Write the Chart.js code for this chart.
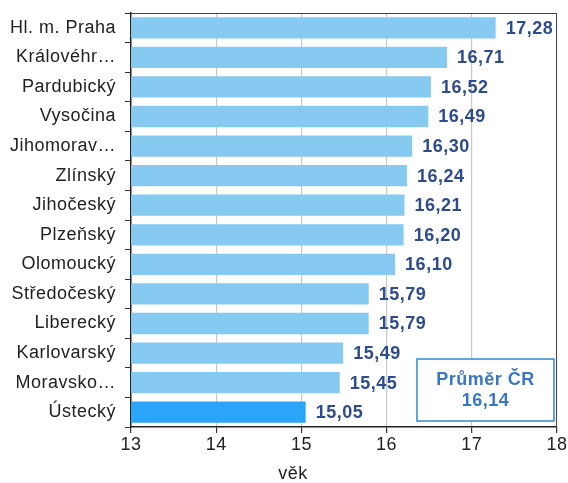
<!DOCTYPE html>
<html>
<head>
<meta charset="utf-8">
<script src="https://cdn.jsdelivr.net/npm/chart.js@4/dist/chart.umd.min.js"></script>
<style>
  html, body { margin: 0; padding: 0; background: #fff; }
  #wrap { width: 568px; height: 483px; }
</style>
</head>
<body>
<div id="wrap"><canvas id="chart" width="568" height="483"></canvas></div>
<script>
// Data
const regions = ['Hl. m. Praha', 'Královéhr…', 'Pardubický', 'Vysočina', 'Jihomorav…', 'Zlínský',
    'Jihočeský', 'Plzeňský', 'Olomoucký', 'Středočeský', 'Liberecký', 'Karlovarský', 'Moravsko…', 'Ústecký'];
const ages = [17.28, 16.71, 16.52, 16.49, 16.30, 16.24, 16.21, 16.20, 16.10, 15.79, 15.79, 15.49, 15.45, 15.05];
const highlight = 'Ústecký';
const avgLabel = 'Průměr ČR';
const avgValue = 16.14;
const xTicks = [13, 14, 15, 16, 17, 18];
const xTitle = 'věk';

const fmt = v => v.toFixed(2).replace('.', ',');
const font = 'Liberation Sans, Arial, sans-serif';

// slightly wider text, like the original rendering
const spacing = {
    id: 'spacing',
    beforeDraw(chart) { chart.ctx.letterSpacing = '0.5px'; }
};

// value labels, plot frame, axis title and the average box
const extras = {
    id: 'extras',
    afterDatasetsDraw(chart) {
        const { ctx, chartArea: a } = chart;
        const meta = chart.getDatasetMeta(0);
        ctx.save();
        ctx.font = 'bold 18px ' + font;
        ctx.fillStyle = '#2E4C8C';
        ctx.textAlign = 'left';
        ctx.textBaseline = 'middle';
        meta.data.forEach((bar, i) => {
            ctx.fillText(fmt(ages[i]), bar.x + 10, bar.y + 1);
        });

        // frame top/right
        ctx.strokeStyle = '#444';
        ctx.lineWidth = 1;
        ctx.beginPath();
        ctx.moveTo(a.left, a.top + 0.5);
        ctx.lineTo(a.right - 0.5, a.top + 0.5);
        ctx.lineTo(a.right - 0.5, a.bottom);
        ctx.stroke();

        // axis title (sits left of the plot centre in the original)
        ctx.fillStyle = '#222';
        ctx.font = '18px ' + font;
        ctx.textAlign = 'center';
        ctx.fillText(xTitle, chart.width / 2 + 9, a.bottom + 47);

        // average box
        const bw = 137, bh = 62;
        const bx = a.right - 3 - bw, by = a.bottom - 6 - bh;
        ctx.fillStyle = '#fff';
        ctx.fillRect(bx, by, bw, bh);
        ctx.strokeStyle = '#2F8AD0';
        ctx.lineWidth = 1.5;
        ctx.strokeRect(bx, by, bw, bh);
        ctx.fillStyle = '#3877C2';
        ctx.font = 'bold 18px ' + font;
        ctx.fillText(avgLabel, bx + bw / 2, by + 21);
        ctx.fillText(fmt(avgValue), bx + bw / 2, by + 42);
        ctx.restore();
    }
};

const ctx = document.getElementById('chart').getContext('2d');
new Chart(ctx, {
    type: 'bar',
    data: {
        labels: regions,
        datasets: [{
            data: ages,
            backgroundColor: regions.map(r => r === highlight ? '#2AA5F7' : '#86C9F1'),
            barPercentage: 0.72,
            categoryPercentage: 1
        }]
    },
    options: {
        indexAxis: 'y',
        responsive: false,
        animation: false,
        layout: { padding: { top: 13, right: 10, left: 0, bottom: 0 } },
        plugins: {
            legend: { display: false },
            tooltip: { enabled: false }
        },
        scales: {
            x: {
                min: 13,
                max: 18,
                afterBuildTicks: scale => { scale.ticks = xTicks.map(v => ({ value: v })); },
                afterFit: scale => { scale.height = 56; },
                grid: { color: '#C8C8C8', tickColor: '#333', tickLength: 6, lineWidth: 1.2 },
                border: { color: '#222', width: 1.5 },
                ticks: { color: '#222', font: { family: font, size: 18 }, padding: 1 }
            },
            y: {
                afterFit: scale => {
                    scale.width = 131;
                    scale.paddingTop = 0;
                    scale.paddingBottom = 0;
                },
                grid: { drawOnChartArea: false, offset: true, tickLength: 6, color: '#333' },
                border: { color: '#222', width: 1.5 },
                ticks: { color: '#222', font: { family: font, size: 18 }, padding: 9 }
            }
        }
    },
    plugins: [spacing, extras]
});
</script>
</body>
</html>
